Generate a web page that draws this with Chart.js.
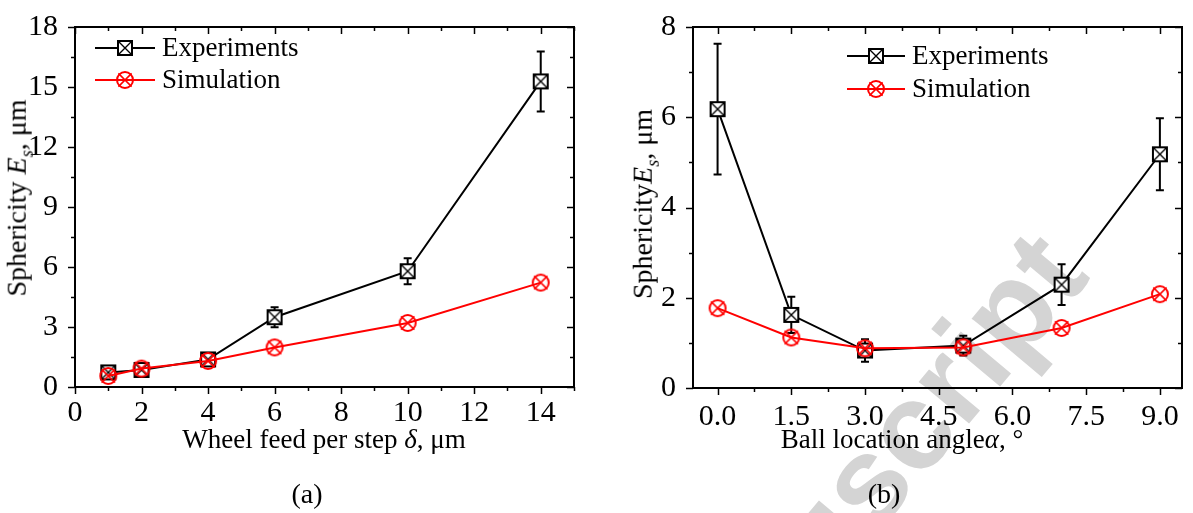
<!DOCTYPE html>
<html>
<head>
<meta charset="utf-8">
<script src="https://cdn.jsdelivr.net/npm/chart.js@4.4.1/dist/chart.umd.min.js"></script>
<style>
  body { margin: 0; width: 1193px; height: 513px; background: #fff; position: relative; overflow: hidden;
         font-family: "Liberation Serif", "Times New Roman", serif; color: #000; }
  canvas { position: absolute; top: 0; }
  .txt { position: absolute; white-space: nowrap; transform: translate(-50%, -50%); }
  .ytitle { transform: translate(-50%, -50%) rotate(-90deg); font-size: 28px; }
  .xtitle { font-size: 27px; }
  .cap { font-size: 28px; }
  .mark { position: absolute; left: 926px; top: 408px; transform: translate(-50%, -50%) rotate(-50deg);
          font: bold 124px "Liberation Sans", Arial, sans-serif; color: #d4d4d4; white-space: nowrap; }
</style>
</head>
<body>
<div class="mark">uscript</div>
<canvas id="chartA" width="600" height="513" style="left:0"></canvas>
<canvas id="chartB" width="593" height="513" style="left:600px"></canvas>

<div class="txt ytitle" style="left:19px;top:198px">Sphericity <i>E<sub style="font-size:18px">s</sub></i>, μm</div>
<div class="txt xtitle" style="left:324px;top:439px">Wheel feed per step <i>δ</i>, μm</div>
<div class="txt cap" style="left:307px;top:494px">(a)</div>

<div class="txt ytitle" style="left:645px;top:204px">Sphericity<i>E<sub style="font-size:18px">s</sub></i>, μm</div>
<div class="txt xtitle" style="left:902px;top:439px">Ball location angle<i>α</i>, °</div>
<div class="txt cap" style="left:884px;top:494px">(b)</div>

<script>
// (a) wheel feed per step
const feed = [1, 2, 4, 6, 10, 14];
const feedExp = [0.73, 0.85, 1.38, 3.49, 5.79, 15.28];
const feedExpErr = [0.2, 0.15, 0.3, 0.5, 0.65, 1.5];
const feedSim = [0.55, 0.92, 1.3, 1.98, 3.2, 5.22];

// (b) ball location angle
const angle = [0, 1.5, 3, 5, 7, 9];
const angleExp = [6.18, 1.62, 0.83, 0.94, 2.29, 5.18];
const angleExpErr = [1.45, 0.4, 0.25, 0.22, 0.45, 0.8];
const angleSim = [1.77, 1.12, 0.88, 0.9, 1.33, 2.08];

// tick labels
const feedTicks = [0, 2, 4, 6, 8, 10, 12, 14];
const feedMinor = [1, 3, 5, 7, 9, 11, 13, 15];
const sphTicksA = [0, 3, 6, 9, 12, 15, 18];
const sphMinorA = [1.5, 4.5, 7.5, 10.5, 13.5, 16.5];
const angleTicks = [0, 1.5, 3, 4.5, 6, 7.5, 9];
const angleMinor = [0.75, 2.25, 3.75, 5.25, 6.75, 8.25];
const sphTicksB = [0, 2, 4, 6, 8];
const sphMinorB = [1, 3, 5, 7];

const seriesNames = ['Experiments', 'Simulation'];
const FONT = '"Liberation Serif", "Times New Roman", serif';

function boxMarker() {
  const c = document.createElement('canvas');
  c.width = c.height = 18;
  const g = c.getContext('2d');
  g.fillStyle = '#fff';
  g.fillRect(2, 2, 14, 14);
  g.strokeStyle = '#000';
  g.lineWidth = 2;
  g.strokeRect(2, 2, 14, 14);
  g.lineWidth = 1.4;
  g.beginPath();
  g.moveTo(3, 3); g.lineTo(15, 15);
  g.moveTo(15, 3); g.lineTo(3, 15);
  g.stroke();
  return c;
}

function circleMarker() {
  const c = document.createElement('canvas');
  c.width = c.height = 22;
  const g = c.getContext('2d');
  g.strokeStyle = '#ff0000';
  g.lineWidth = 2;
  g.beginPath();
  g.arc(11, 11, 8, 0, Math.PI * 2);
  g.stroke();
  g.lineWidth = 1.5;
  const d = 6.6;
  g.beginPath();
  g.moveTo(11 - d, 11 - d); g.lineTo(11 + d, 11 + d);
  g.moveTo(11 + d, 11 - d); g.lineTo(11 - d, 11 + d);
  g.stroke();
  return c;
}

const boxImg = boxMarker();
const circleImg = circleMarker();

// border on all four sides + major/minor ticks (out on bottom/left, in on top/right)
const framePlugin = {
  id: 'frame',
  afterDraw(chart, args, o) {
    const { ctx, chartArea: a } = chart;
    const x = chart.scales.x, y = chart.scales.y;
    ctx.save();
    ctx.strokeStyle = '#000';
    ctx.lineWidth = 2;
    ctx.strokeRect(a.left, a.top, a.right - a.left, a.bottom - a.top);
    ctx.lineWidth = 1.5;
    const line = (x1, y1, x2, y2) => {
      ctx.beginPath(); ctx.moveTo(x1, y1); ctx.lineTo(x2, y2); ctx.stroke();
    };
    const doX = (vals, len) => vals.forEach(v => {
      const p = Math.round(x.getPixelForValue(v)) + 0.5;
      line(p, a.bottom, p, a.bottom + len);
      line(p, a.top, p, a.top + len);
    });
    const doY = (vals, len) => vals.forEach(v => {
      const p = Math.round(y.getPixelForValue(v)) + 0.5;
      line(a.left, p, a.left - len, p);
      line(a.right, p, a.right - len, p);
    });
    doX(o.xMajor, 7); doX(o.xMinor, 4);
    doY(o.yMajor, 7); doY(o.yMinor, 4);
    ctx.restore();
  }
};

// vertical error bars from dataset.errors
const errorPlugin = {
  id: 'errbars',
  beforeDatasetsDraw(chart) {
    const { ctx } = chart;
    const x = chart.scales.x, y = chart.scales.y;
    chart.data.datasets.forEach(ds => {
      if (!ds.errors) return;
      ctx.save();
      ctx.strokeStyle = ds.borderColor;
      ctx.lineWidth = 2;
      ds.data.forEach((pt, i) => {
        const e = ds.errors[i];
        const px = x.getPixelForValue(pt.x);
        const top = y.getPixelForValue(pt.y + e);
        const bot = y.getPixelForValue(pt.y - e);
        ctx.beginPath();
        ctx.moveTo(px, top); ctx.lineTo(px, bot);
        ctx.moveTo(px - 4, top); ctx.lineTo(px + 4, top);
        ctx.moveTo(px - 4, bot); ctx.lineTo(px + 4, bot);
        ctx.stroke();
      });
      ctx.restore();
    });
  }
};

// legend: line with marker, then label
const keyPlugin = {
  id: 'key',
  afterDraw(chart, args, o) {
    const { ctx } = chart;
    ctx.save();
    ctx.font = '27px ' + FONT;
    ctx.textBaseline = 'middle';
    chart.data.datasets.forEach((ds, i) => {
      const yy = o.y + i * o.gap;
      ctx.strokeStyle = ds.borderColor;
      ctx.lineWidth = 2;
      ctx.beginPath();
      ctx.moveTo(o.x, yy); ctx.lineTo(o.x + o.len, yy);
      ctx.stroke();
      const img = ds.pointStyle;
      ctx.drawImage(img, o.x + o.len / 2 - img.width / 2, yy - img.height / 2);
      ctx.fillStyle = '#000';
      ctx.fillText(ds.label, o.x + o.len + 7, yy + 1);
    });
    ctx.restore();
  }
};

function makeChart(id, cfg) {
  const tickFont = { family: FONT, size: 30 };
  return new Chart(document.getElementById(id), {
    type: 'line',
    data: {
      datasets: [
        {
          label: seriesNames[0],
          data: cfg.xs.map((v, i) => ({ x: v, y: cfg.exp[i] })),
          errors: cfg.err,
          borderColor: '#000',
          borderWidth: 2,
          pointStyle: boxImg,
          pointRadius: 8,
          order: 2
        },
        {
          label: seriesNames[1],
          data: cfg.xs.map((v, i) => ({ x: v, y: cfg.sim[i] })),
          borderColor: '#ff0000',
          borderWidth: 2,
          pointStyle: circleImg,
          pointRadius: 9,
          order: 1
        }
      ]
    },
    options: {
      responsive: false,
      animation: false,
      devicePixelRatio: 1,
      layout: { padding: cfg.pad },
      plugins: {
        legend: { display: false },
        tooltip: { enabled: false },
        frame: { xMajor: cfg.xTicks, xMinor: cfg.xMinor, yMajor: cfg.yTicks, yMinor: cfg.yMinor },
        key: cfg.key
      },
      scales: {
        x: {
          type: 'linear',
          min: cfg.xMin,
          max: cfg.xMax,
          afterBuildTicks: s => { s.ticks = cfg.xTicks.map(v => ({ value: v })); },
          afterFit: s => { s.height = 60; },
          grid: { display: false },
          border: { display: true, width: 2, color: '#000' },
          ticks: {
            color: '#000', font: tickFont, padding: cfg.xPad, maxRotation: 0, autoSkip: false,
            callback: v => cfg.xFmt(v)
          }
        },
        y: {
          min: cfg.yMin,
          max: cfg.yMax,
          afterBuildTicks: s => { s.ticks = cfg.yTicks.map(v => ({ value: v })); },
          afterFit: s => { s.width = cfg.yWidth; },
          grid: { display: false },
          border: { display: true, width: 2, color: '#000' },
          ticks: { color: '#000', font: tickFont, padding: 9, autoSkip: false }
        }
      }
    },
    plugins: [errorPlugin, framePlugin, keyPlugin]
  });
}

makeChart('chartA', {
  xs: feed, exp: feedExp, err: feedExpErr, sim: feedSim,
  xMin: 0, xMax: 15, yMin: 0, yMax: 18,
  xTicks: feedTicks, xMinor: feedMinor, yTicks: sphTicksA, yMinor: sphMinorA,
  xFmt: v => String(v),
  xPad: 0,
  yWidth: 75,
  pad: { top: 17, right: 26, bottom: 66, left: 0 },
  key: { x: 95, y: 48, gap: 32, len: 60 }
});

makeChart('chartB', {
  xs: angle, exp: angleExp, err: angleExpErr, sim: angleSim,
  xMin: -0.5, xMax: 9.45, yMin: 0, yMax: 8,
  xTicks: angleTicks, xMinor: angleMinor, yTicks: sphTicksB, yMinor: sphMinorB,
  xFmt: v => v.toFixed(1),
  xPad: 3,
  yWidth: 93,
  pad: { top: 19, right: 6, bottom: 65, left: 0 },
  key: { x: 247, y: 56, gap: 33, len: 58 }
});
</script>
</body>
</html>
